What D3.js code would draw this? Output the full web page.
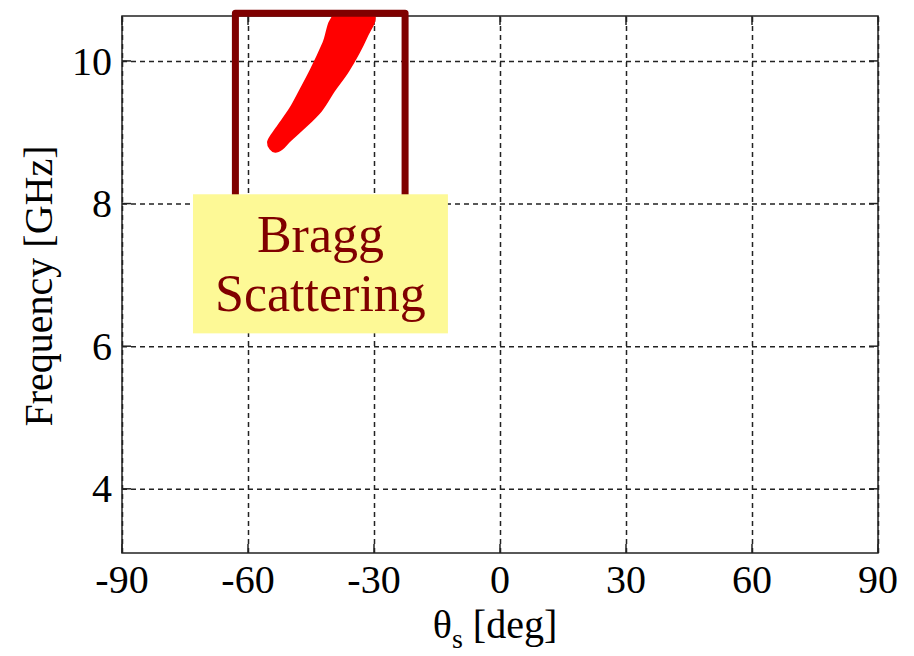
<!DOCTYPE html>
<html>
<head>
<meta charset="utf-8">
<script src="https://cdn.jsdelivr.net/npm/d3@7"></script>
<style>
  body { margin: 0; background: #fff; }
  text { font-family: "Liberation Serif", "Times New Roman", serif; }
</style>
</head>
<body>
<div id="chart"></div>
<script>
// axis ticks
const xTicks = [-90, -60, -30, 0, 30, 60, 90];
const yTicks = [4, 6, 8, 10];

// outline of the Bragg scattering band [theta_s, GHz]
const braggLeft = [[-55.0, 8.86], [-53.0, 9.05], [-49.8, 9.32], [-47.3, 9.59],
                   [-44.8, 9.87], [-41.8, 10.25], [-39.2, 10.63]];
const braggRight = [[-30.2, 10.63], [-32.0, 10.34], [-36.3, 9.87], [-39.7, 9.59], [-42.8, 9.31],
                    [-47.4, 9.04], [-50.2, 8.89], [-52.0, 8.78], [-53.5, 8.74], [-54.5, 8.78]];

// annotation boxes, in data units
const frameBox = { x0: -63, x1: -22.6, y0: 7.9, y1: 10.67 };
const noteBox = { x0: -73.1, x1: -12.4, y0: 6.18, y1: 8.13 };
const noteLines = ["Bragg", "Scattering"];

const svg = d3.select("#chart")
    .append("svg")
    .attr("width", 914)
    .attr("height", 656);

const x = d3.scaleLinear().domain([-90, 90]).range([122, 878]);
const y = d3.scaleLinear().domain([3.1, 10.63]).range([553, 16]);

// grid
svg.append("g")
    .attr("transform", "translate(0,553)")
    .call(d3.axisBottom(x).tickValues(xTicks).tickSize(-537).tickFormat(""))
    .call(g => g.select(".domain").remove())
    .selectAll("line")
    .attr("stroke", "#222")
    .attr("stroke-width", 1.5)
    .attr("stroke-dasharray", "5,4");

svg.append("g")
    .attr("transform", "translate(122,0)")
    .call(d3.axisLeft(y).tickValues(yTicks).tickSize(-756).tickFormat(""))
    .call(g => g.select(".domain").remove())
    .selectAll("line")
    .attr("stroke", "#222")
    .attr("stroke-width", 1.5)
    .attr("stroke-dasharray", "5,4");

// inward solid ticks on all four sides
const tickLen = 9;
const ticks = svg.append("g").attr("stroke", "#222").attr("stroke-width", 1.5);
xTicks.forEach(t => {
    ticks.append("line").attr("x1", x(t)).attr("x2", x(t)).attr("y1", 553).attr("y2", 553 - tickLen);
    ticks.append("line").attr("x1", x(t)).attr("x2", x(t)).attr("y1", 16).attr("y2", 16 + tickLen);
});
yTicks.forEach(t => {
    ticks.append("line").attr("x1", 122).attr("x2", 122 + tickLen).attr("y1", y(t)).attr("y2", y(t));
    ticks.append("line").attr("x1", 878).attr("x2", 878 - tickLen).attr("y1", y(t)).attr("y2", y(t));
});

// frame
svg.append("rect")
    .attr("x", 122)
    .attr("y", 16)
    .attr("width", 756)
    .attr("height", 537)
    .attr("fill", "none")
    .attr("stroke", "#222")
    .attr("stroke-width", 1.5);

// tick labels
svg.append("g")
    .selectAll("text")
    .data(xTicks)
    .join("text")
    .attr("x", d => x(d))
    .attr("y", 593)
    .attr("text-anchor", "middle")
    .attr("font-size", 40)
    .text(d => d);

svg.append("g")
    .selectAll("text")
    .data(yTicks)
    .join("text")
    .attr("x", 112)
    .attr("y", d => y(d))
    .attr("dy", "0.34em")
    .attr("text-anchor", "end")
    .attr("font-size", 40)
    .text(d => d);

// axis titles
const xLabel = svg.append("text")
    .attr("x", 495)
    .attr("y", 638)
    .attr("text-anchor", "middle")
    .attr("font-size", 40);
xLabel.append("tspan").text("θ");
xLabel.append("tspan").attr("font-size", 28).attr("dy", 10).text("s");
xLabel.append("tspan").attr("dy", -10).text(" [deg]");

svg.append("text")
    .attr("transform", "translate(52,286) rotate(-90)")
    .attr("text-anchor", "middle")
    .attr("font-size", 40)
    .text("Frequency [GHz]");

// Bragg band
const outline = braggLeft.concat(braggRight);
svg.append("path")
    .attr("d", d3.line()
        .x(d => x(d[0]))
        .y(d => y(d[1]))
        .curve(d3.curveCatmullRomClosed)(outline))
    .attr("fill", "#ff0000")
    .attr("stroke", "#ff0000")
    .attr("stroke-width", 4)
    .attr("stroke-linejoin", "round");

// dark red outline box
svg.append("rect")
    .attr("x", x(frameBox.x0))
    .attr("y", y(frameBox.y1))
    .attr("width", x(frameBox.x1) - x(frameBox.x0))
    .attr("height", y(frameBox.y0) - y(frameBox.y1))
    .attr("fill", "none")
    .attr("stroke", "#7f0000")
    .attr("stroke-width", 7)
    .attr("stroke-linejoin", "round");

// yellow note
svg.append("rect")
    .attr("x", x(noteBox.x0))
    .attr("y", y(noteBox.y1))
    .attr("width", x(noteBox.x1) - x(noteBox.x0))
    .attr("height", y(noteBox.y0) - y(noteBox.y1))
    .attr("fill", "#fdf996");

svg.append("g")
    .selectAll("text")
    .data(noteLines)
    .join("text")
    .attr("x", (x(noteBox.x0) + x(noteBox.x1)) / 2)
    .attr("y", (d, i) => y(noteBox.y1) + 58 + i * 59)
    .attr("text-anchor", "middle")
    .attr("font-size", 52)
    .attr("fill", "#800000")
    .text(d => d);
</script>
</body>
</html>
